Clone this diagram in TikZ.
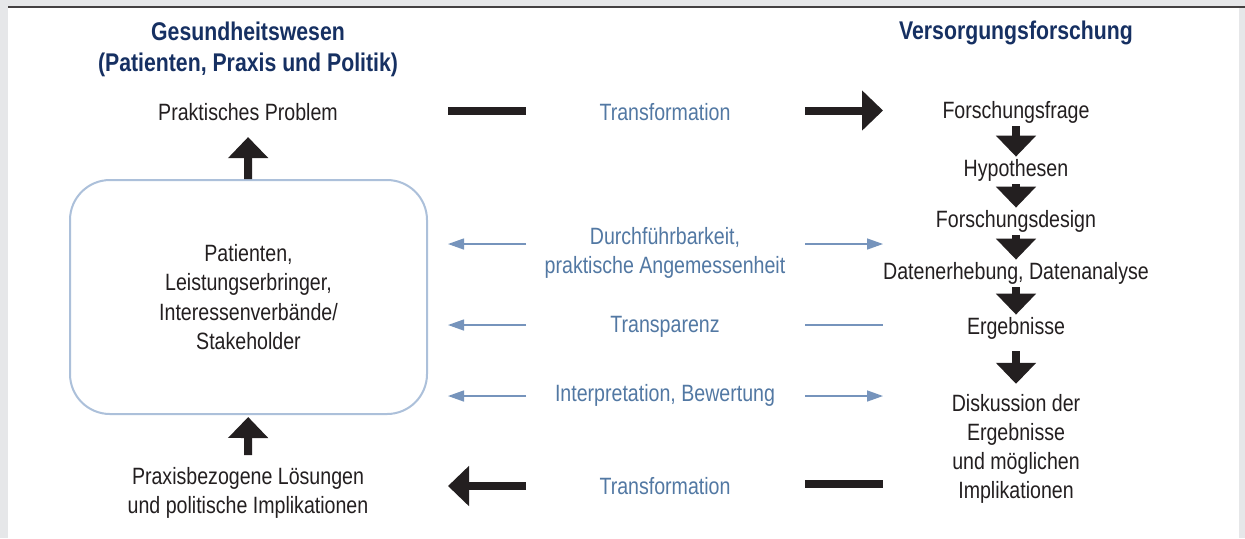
\documentclass[tikz,border=0pt]{standalone}
\usepackage{fontspec}
\setmainfont{Liberation Sans}[FakeStretch=0.83]
\usetikzlibrary{arrows.meta, positioning}
\definecolor{navy1}{RGB}{22, 48, 98}
\definecolor{steel1}{RGB}{82, 120, 163}
\definecolor{steel2}{RGB}{118, 148, 188}
\definecolor{frame1}{RGB}{172, 192, 218}
\definecolor{ink1}{RGB}{35, 31, 32}
\definecolor{page1}{RGB}{230, 231, 233}

\begin{document}
\begin{tikzpicture}[x=0.5pt, y=-0.5pt,
  txt/.style={text=ink1, align=center, inner sep=0pt, font=\fontsize{11.8}{14.6}\selectfont},
  head/.style={text=navy1, align=center, inner sep=0pt, font=\bfseries\fontsize{12.8}{15.5}\selectfont},
  lbl/.style={text=steel1, align=center, inner sep=0pt, font=\fontsize{11.8}{14.6}\selectfont},
  bigarrow/.style={draw=ink1, line width=4pt, -{Triangle[length=10.5pt, width=19.5pt]}},
  bigbar/.style={draw=ink1, line width=4pt},
  thinarrow/.style={draw=steel2, line width=0.7pt, -{Triangle[length=8pt, width=5.5pt]}},
  thinline/.style={draw=steel2, line width=0.7pt}]

  % page
  \useasboundingbox (0,0) rectangle (1245,538);
  \fill[page1] (0,0) rectangle (1245,538);
  \fill[white] (8,8) rectangle (1239,538);
  \draw[ink1!85, line width=1pt] (8,7) -- (1245,7);

  % left column
  \node[head] (ghead) at (248,49) {Gesundheitswesen\\(Patienten, Praxis und Politik)};
  \node[txt] (prob) at (248,112) {Praktisches Problem};
  \node[txt, draw=frame1, line width=1pt, rounded corners=20pt,
        minimum width=178.5pt, minimum height=117pt] (akteure) at (248.5,297)
        {Patienten,\\Leistungserbringer,\\Interessenverbände/\\Stakeholder};
  \node[txt] (loes) at (248,493) {Praxisbezogene Lösungen\\und politische Implikationen};

  \draw[bigarrow, shorten >=8pt] (akteure) -- (prob);
  \draw[bigarrow, shorten <=6pt, shorten >=1pt] (loes) -- (akteure);

  % right column
  \node[head] (vhead) at (1016,33) {Versorgungsforschung};
  \node[txt] (frage) at (1016,112) {Forschungsfrage};
  \node[txt] (hypo) at (1016,170) {Hypothesen};
  \node[txt] (design) at (1016,221) {Forschungsdesign};
  \node[txt] (daten) at (1016,273) {Datenerhebung, Datenanalyse};
  \node[txt] (ergeb) at (1016,328) {Ergebnisse};
  \node[txt] (disk) at (1016,449) {Diskussion der\\Ergebnisse\\und möglichen\\Implikationen};

  \foreach \a/\b in {frage/hypo, hypo/design, design/daten, daten/ergeb}
    \draw[bigarrow, shorten <=1.5pt, shorten >=1pt] (\a) -- (\b);
  \draw[bigarrow, shorten <=6pt, shorten >=5pt] (ergeb) -- (disk);

  % middle
  \node[lbl] (trafo1) at (665,112) {Transformation};
  \node[lbl] (durch) at (665,253) {Durchführbarkeit,\\praktische Angemessenheit};
  \node[lbl] (transp) at (665,327) {Transparenz};
  \node[lbl] (interp) at (665,395) {Interpretation, Bewertung};
  \node[lbl] (trafo2) at (665,486) {Transformation};

  \coordinate (t0) at (448,110.5);  \coordinate (t1) at (526,110.5);
  \coordinate (t2) at (805,110.5);  \coordinate (t3) at (883,110.5);
  \coordinate (d0) at (448,244);    \coordinate (d1) at (526,244);
  \coordinate (d2) at (805,244);    \coordinate (d3) at (883,244);
  \coordinate (p0) at (448,325);    \coordinate (p1) at (526,325);
  \coordinate (p2) at (805,325);    \coordinate (p3) at (883,325);
  \coordinate (i0) at (448,396);    \coordinate (i1) at (526,396);
  \coordinate (i2) at (805,396);    \coordinate (i3) at (883,396);
  \coordinate (b0) at (448,486);    \coordinate (b1) at (526,486);
  \coordinate (b2) at (805,484);    \coordinate (b3) at (883,484);

  \draw[bigbar] (t0) -- (t1);
  \draw[bigarrow] (t2) -- (t3);
  \draw[thinarrow] (d1) -- (d0);
  \draw[thinarrow] (d2) -- (d3);
  \draw[thinarrow] (p1) -- (p0);
  \draw[thinline] (p2) -- (p3);
  \draw[thinarrow] (i1) -- (i0);
  \draw[thinarrow] (i2) -- (i3);
  \draw[bigarrow] (b1) -- (b0);
  \draw[bigbar] (b2) -- (b3);
\end{tikzpicture}
\end{document}
